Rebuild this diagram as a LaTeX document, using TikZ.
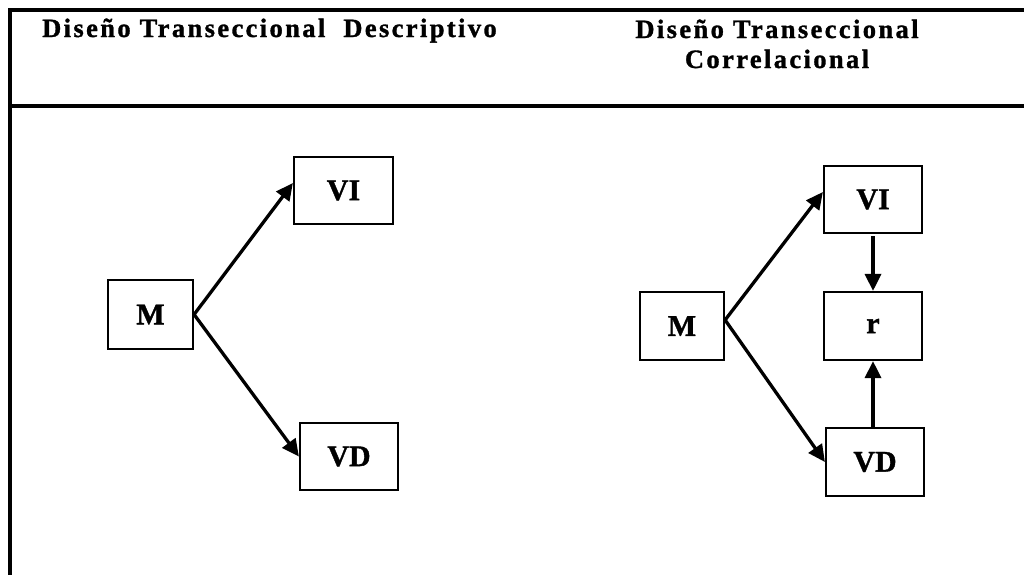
\documentclass[tikz,border=0pt]{standalone}
\usepackage{fontspec}
\setmainfont{Liberation Serif}[BoldFont={Liberation Serif Bold}]
\newfontfamily\hdrfont{Liberation Serif Bold}[LetterSpace=9,FakeBold=1.2]
\newfontfamily\boxfont{Liberation Serif Bold}[FakeBold=1.2]
\usetikzlibrary{arrows.meta}
\begin{document}
\begin{tikzpicture}[x=1pt,y=-1pt,
  box/.style={draw,line width=2.2pt,minimum width=98pt,minimum height=67pt,inner sep=0pt,font=\boxfont\fontsize{30}{30}\selectfont},
  arr/.style={line width=3.3pt,-{Triangle[length=17pt,width=16pt]}},
  hdr/.style={font=\hdrfont\fontsize{26.5}{30}\selectfont,inner sep=0pt}
]
\useasboundingbox (0,0) rectangle (1024,574);
\draw[line width=3.2pt] (10,580) -- (10,10) -- (1030,10);
\draw[line width=3.2pt] (10,106) -- (1030,106);

\node[hdr,anchor=base west] (H1) at (42,37) {Diseño Transeccional\ \ Descriptivo};
\node[hdr,anchor=base,align=center] (H2) at (777,68) {Diseño Transeccional\\Correlacional};

\node[box,minimum width=85pt,minimum height=69pt] (M1) at (150.5,314.5) {M};
\node[box,minimum width=99pt] (VI1) at (343.5,190.5) {VI};
\node[box] (VD1) at (349,456.5) {VD};
\node[box,minimum width=84pt,minimum height=68pt] (M2) at (682,326) {M};
\node[box] (VI2) at (873,199.5) {VI};
\node[box,minimum height=68pt] (R) at (873,326) {r};
\node[box,minimum height=68pt] (VD2) at (875,462) {VD};

\draw[arr] (M1.east) -- ([yshift=7.5pt]VI1.west);
\draw[arr] (M1.east) -- (VD1.west);
\draw[arr] ([yshift=6pt]M2.east) -- ([yshift=7.5pt]VI2.west);
\draw[arr] ([yshift=6pt]M2.east) -- (VD2.west);
\draw[arr] ([yshift=-2pt]VI2.south) -- (R.north);
\draw[arr] (R.south |- VD2.north) -- (R.south);
\end{tikzpicture}
\end{document}
